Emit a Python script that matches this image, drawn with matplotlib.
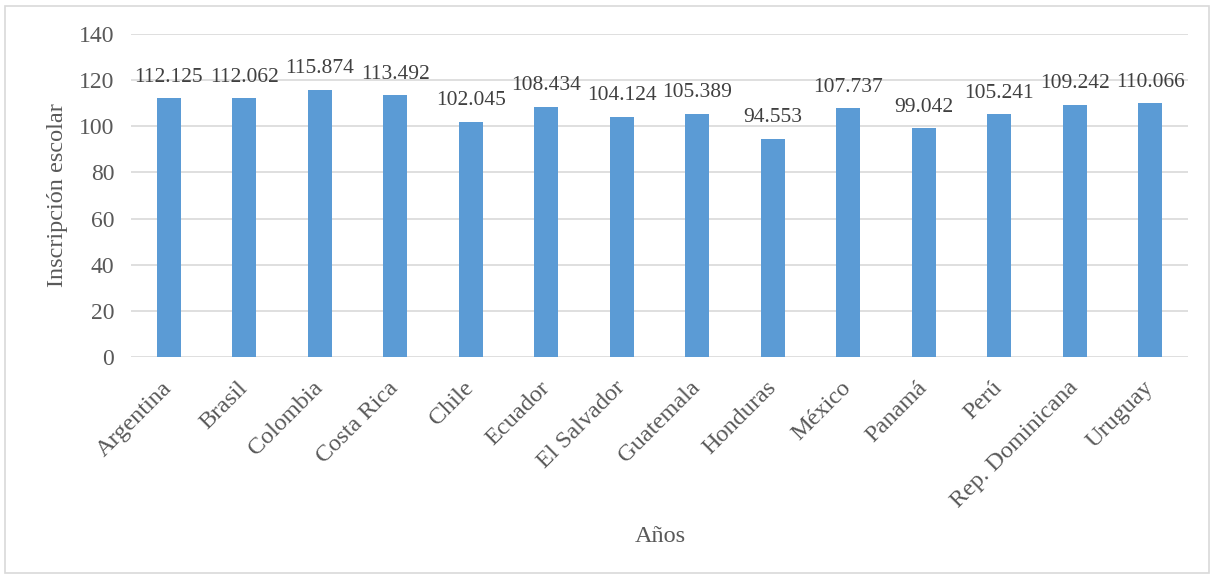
import matplotlib.pyplot as plt
import numpy as np

paises = ['Argentina', 'Brasil', 'Colombia', 'Costa Rica', 'Chile', 'Ecuador',
          'El Salvador', 'Guatemala', 'Honduras', 'México', 'Panamá', 'Perú',
          'Rep. Dominicana', 'Uruguay']
inscripcion = [112.125, 112.062, 115.874, 113.492, 102.045, 108.434, 104.124,
               105.389, 94.553, 107.737, 99.042, 105.241, 109.242, 110.066]
yticks = [0, 20, 40, 60, 80, 100, 120, 140]

plt.rcParams['font.family'] = ['Liberation Serif', 'DejaVu Serif']
txt = '#595959'

fig = plt.figure(figsize=(12.14, 5.78), dpi=100)
ax = fig.add_axes([131 / 1214, 1 - 357 / 578, (1188 - 131) / 1214, (357 - 34) / 578])

x = np.arange(len(paises))
ax.bar(x, inscripcion, width=0.32, color='#5B9BD5', zorder=3)
for xi, v in zip(x, inscripcion):
    ax.text(xi, v + 5, f'{v:.3f}', ha='center', va='bottom', fontsize=15.5, color='#404040')

ax.set_xlim(-0.5, len(paises) - 0.5)
ax.set_ylim(0, 140)
ax.set_yticks(yticks)
ax.set_xticks(x)
ax.set_xticklabels(paises, rotation=45, ha='right', va='center', rotation_mode='anchor',
                   fontsize=17.5)
ax.tick_params(axis='both', length=0, labelcolor=txt)
ax.tick_params(axis='y', labelsize=17, pad=12)
ax.tick_params(axis='x', pad=20)
ax.yaxis.grid(True, color='#d9d9d9', linewidth=1.2, zorder=0)
for s in ax.spines.values():
    s.set_visible(False)

ax.set_ylabel('Inscripción escolar', fontsize=17.5, color=txt, labelpad=8)
fig.text(660 / 1214, 1 - 537 / 578, 'Años', ha='center', va='center', fontsize=17.5, color=txt)

# borde exterior
fig.patches.append(plt.Rectangle((5 / 1214, 5 / 578), 1204 / 1214, 567 / 578,
                                 transform=fig.transFigure, fill=False,
                                 edgecolor='#d9d9d9', linewidth=1.2))

fig.savefig('out.png', dpi=100)
